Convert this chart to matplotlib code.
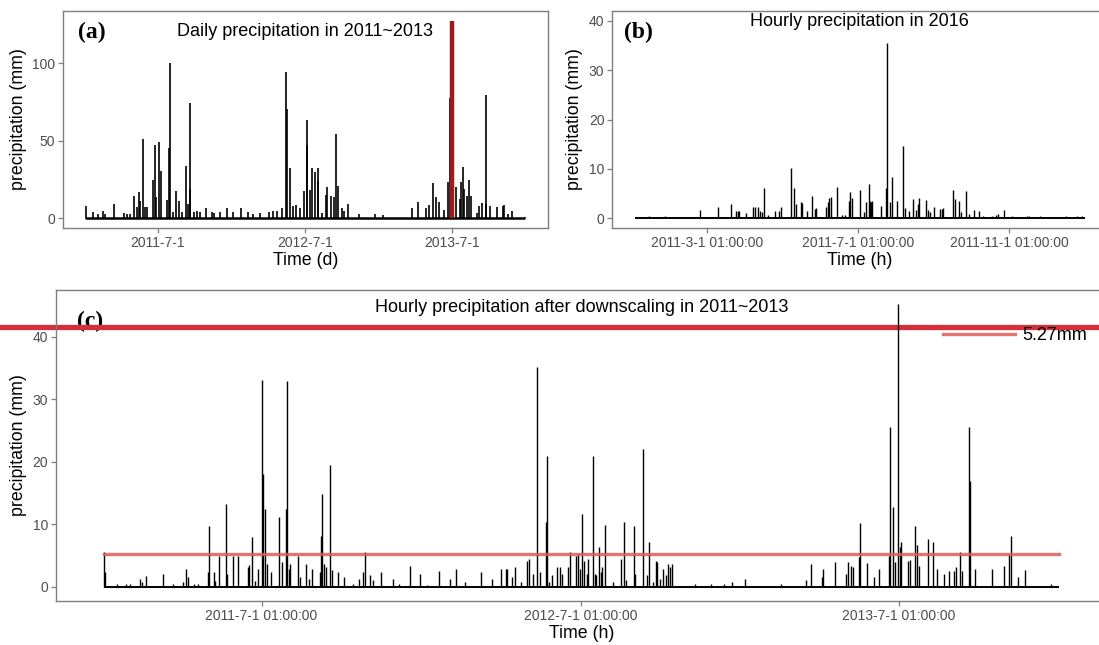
import numpy as np
import pandas as pd
import matplotlib
matplotlib.use('Agg')
import matplotlib.pyplot as plt
from matplotlib.lines import Line2D

plt.rcParams['font.family'] = ['Liberation Sans', 'DejaVu Sans']

# (a) daily precipitation, day index counted from a_start
a_start, a_end = '2011-01-01', '2013-12-31'
a_day = [2, 19, 32, 44, 50, 71, 96, 104, 112, 123,
         129, 134, 137, 143, 150, 155, 169, 173, 177, 184,
         188, 203, 210, 212, 220, 226, 234, 242, 251, 256,
         261, 262, 270, 278, 286, 301, 315, 321, 336, 352,
         367, 388, 406, 417, 435, 458, 468, 477, 489, 500,
         502, 510, 516, 524, 535, 545, 552, 553, 560, 564,
         571, 578, 580, 588, 598, 602, 612, 619, 623, 629,
         638, 645, 655, 681, 721, 740, 814, 829, 847, 856,
         864, 873, 881, 892, 903, 907, 912, 922, 931, 935,
         939, 942, 949, 955, 960, 974, 980, 986, 997, 998,
         1007, 1025, 1038, 1042, 1052, 1062, 1094]
a_mm = [7.7, 3.8, 2.4, 4.5, 2.8, 9.2, 3.4, 2.8, 2.8, 14.3,
        7.1, 16.7, 11.3, 50.9, 7.1, 7.1, 24.6, 47.4, 13.5, 49.1,
        30.6, 12.0, 45.1, 100.5, 3.8, 17.3, 10.9, 3.8, 33.8, 9.2,
        18.8, 74.4, 3.8, 4.9, 3.8, 6.4, 3.8, 3.2, 3.8, 6.4,
        3.8, 6.6, 3.8, 2.8, 3.2, 3.8, 4.3, 4.5, 6.4, 94.2,
        70.5, 32.3, 8.1, 8.8, 6.4, 17.3, 63.7, 47.6, 18.2, 32.3,
        30.1, 32.3, 24.1, 3.2, 15.2, 20.3, 14.5, 13.9, 54.7, 20.5,
        6.4, 4.5, 9.2, 2.4, 2.4, 2.1, 6.4, 10.7, 6.4, 8.5,
        22.4, 13.9, 10.7, 5.3, 23.1, 77.6, 27.4, 20.3, 12.4, 23.1,
        33.3, 18.8, 14.5, 24.8, 14.5, 3.2, 8.1, 9.8, 9.2, 79.7,
        7.7, 7.5, 7.7, 8.5, 2.8, 4.9, 0.6]
a_mark_date = '2013-07-01'
a_mark_mm = 127.5
a_ticks = ['2011-07-01', '2012-07-01', '2013-07-01']
a_ticklabels = ['2011-7-1', '2012-7-1', '2013-7-1']

# (b) hourly precipitation, one year
b_start, b_end = '2011-01-01', '2011-12-31 23:00'
b_day = [12, 21, 25, 53, 68, 78, 82, 84, 85, 90,
         96, 98, 100, 102, 103, 105, 108, 114, 117, 119,
         127, 129, 131, 135, 136, 140, 144, 146, 147, 155,
         157, 158, 159, 164, 168, 171, 174, 175, 176, 183,
         186, 188, 190, 191, 192, 193, 200, 204, 205, 207,
         209, 213, 218, 219, 223, 226, 228, 230, 231, 236,
         238, 240, 243, 248, 249, 250, 258, 260, 263, 265,
         269, 271, 275, 279, 283, 290, 293, 295, 300, 306,
         313, 318, 320, 329, 350, 359, 363]
b_mm = [0.5, 0.3, 0.5, 1.7, 2.3, 2.9, 1.5, 1.5, 1.5, 1.0,
        2.2, 2.2, 2.3, 1.5, 1.3, 6.1, 0.7, 1.5, 1.4, 2.2,
        10.1, 6.2, 2.9, 3.2, 3.1, 1.5, 4.4, 1.9, 2.1, 2.2,
        3.2, 4.1, 4.2, 6.4, 0.7, 0.7, 3.4, 5.4, 4.0, 5.7,
        1.2, 3.2, 6.9, 3.5, 3.2, 3.4, 2.5, 6.1, 35.5, 3.2,
        8.4, 3.5, 14.7, 2.0, 1.5, 3.9, 1.7, 2.9, 4.1, 3.7,
        1.7, 1.2, 2.3, 1.9, 1.9, 2.0, 5.7, 3.9, 3.5, 1.3,
        5.6, 0.9, 1.7, 1.5, 0.5, 0.5, 0.7, 0.9, 1.7, 0.5,
        0.3, 0.4, 0.4, 0.5, 0.4, 0.4, 0.4]
b_ticks = ['2011-03-01 01:00', '2011-07-01 01:00', '2011-11-01 01:00']
b_ticklabels = ['2011-3-1 01:00:00', '2011-7-1 01:00:00', '2011-11-1 01:00:00']

# (c) hourly precipitation after downscaling
c_start, c_end = '2011-01-01', '2013-12-31 23:00'
c_day = [0, 1, 15, 26, 30, 41, 44, 49, 68, 79,
         91, 94, 97, 104, 108, 120, 121, 126, 128, 132,
         140, 141, 148, 154, 165, 167, 170, 173, 177, 182,
         183, 185, 187, 192, 201, 204, 209, 210, 212, 214,
         223, 225, 232, 235, 239, 248, 249, 250, 253, 255,
         259, 262, 269, 276, 286, 293, 297, 300, 305, 309,
         318, 332, 339, 351, 363, 371, 385, 397, 404, 414,
         433, 445, 456, 461, 463, 468, 472, 479, 486, 488,
         492, 497, 500, 507, 508, 511, 514, 520, 523, 526,
         532, 535, 542, 544, 546, 549, 551, 554, 556, 561,
         563, 565, 568, 570, 572, 575, 584, 593, 597, 599,
         608, 609, 619, 623, 625, 630, 633, 635, 638, 641,
         645, 647, 649, 652, 678, 696, 712, 721, 735, 748,
         777, 806, 811, 824, 825, 839, 851, 854, 857, 859,
         866, 867, 875, 884, 889, 901, 902, 905, 908, 911,
         913, 915, 923, 925, 930, 933, 935, 945, 951, 956,
         964, 970, 975, 977, 982, 985, 993, 994, 999, 1019,
         1033, 1038, 1041, 1049, 1057, 1086]
c_mm = [5.6, 2.3, 0.5, 0.5, 0.5, 1.3, 0.8, 1.75, 2.1, 0.4,
        0.8, 2.8, 1.5, 0.5, 0.5, 2.3, 9.7, 2.3, 1.0, 5.0,
        13.3, 2.1, 5.0, 5.0, 3.2, 3.5, 7.9, 1.0, 2.8, 33.1,
        18.0, 12.5, 3.7, 2.3, 11.1, 3.9, 12.5, 32.9, 2.9, 3.7,
        4.9, 1.6, 3.7, 1.2, 2.9, 2.3, 8.2, 14.8, 3.7, 3.2,
        19.5, 2.7, 2.4, 1.6, 0.5, 1.3, 2.3, 5.6, 1.9, 1.1,
        2.3, 1.3, 0.5, 3.3, 2.1, 0.3, 2.5, 1.3, 2.8, 0.8,
        2.3, 1.2, 2.9, 2.9, 2.9, 1.5, 3.2, 0.8, 4.2, 4.5,
        2.1, 35.2, 2.3, 10.4, 20.9, 0.8, 1.9, 3.2, 3.2, 2.1,
        3.2, 5.6, 5.0, 5.3, 2.9, 11.7, 4.2, 2.1, 4.5, 20.9,
        2.1, 1.9, 6.4, 2.4, 3.2, 9.9, 0.8, 4.5, 10.3, 1.1,
        9.7, 2.1, 22.0, 1.9, 7.1, 0.8, 4.1, 4.0, 1.3, 2.9,
        1.9, 3.7, 3.2, 3.7, 0.5, 0.4, 0.4, 0.8, 1.3, 0.2,
        0.4, 1.1, 3.7, 1.5, 2.9, 4.0, 2.0, 4.0, 3.3, 3.1,
        4.7, 10.2, 3.8, 1.5, 2.9, 4.9, 25.5, 12.7, 3.9, 45.2,
        6.3, 7.2, 4.1, 4.3, 9.7, 6.7, 3.3, 7.7, 7.2, 2.9,
        2.0, 2.5, 2.5, 3.1, 5.5, 2.5, 25.5, 17.0, 2.9, 2.9,
        3.4, 5.3, 8.1, 1.5, 2.7, 0.5]
c_thresh = 5.27
c_ticks = ['2011-07-01 01:00', '2012-07-01 01:00', '2013-07-01 01:00']
c_ticklabels = ['2011-7-1 01:00:00', '2012-7-1 01:00:00', '2013-7-1 01:00:00']

GREY = '#4d4d4d'


def to_dates(start, days):
    return (pd.Timestamp(start) + pd.to_timedelta(np.asarray(days, dtype=float), unit='D')).to_numpy()


def spikes(ax, start, end, days, mm, lw=1.0, base_lw=1.3):
    t0, t1 = pd.Timestamp(start), pd.Timestamp(end)
    ax.plot([t0, t1], [0, 0], color='black', lw=base_lw, zorder=3, solid_capstyle='butt')
    ax.vlines(to_dates(start, days), 0, mm, color='black', lw=lw, zorder=3)
    pad = (t1 - t0) * 0.05
    ax.set_xlim(t0 - pad, t1 + pad)


def style(ax, ticks, labels, xlabel):
    ax.set_xticks([pd.Timestamp(t) for t in ticks])
    ax.set_xticklabels(labels)
    for s in ax.spines.values():
        s.set_color('#7f7f7f')
        s.set_linewidth(1.0)
    ax.tick_params(colors='#7f7f7f', labelcolor=GREY, labelsize=10, length=3.5, width=0.9, pad=2)
    ax.set_xlabel(xlabel, fontsize=12.8, labelpad=2)
    ax.set_ylabel('precipitation (mm)', fontsize=12.8, labelpad=4)


fig = plt.figure(figsize=(10.99, 6.45), dpi=100)

# (a)
ax_a = fig.add_axes([0.0573, 0.6465, 0.4409, 0.3364])
spikes(ax_a, a_start, a_end, a_day, a_mm, lw=1.2, base_lw=1.8)
ax_a.vlines(pd.Timestamp(a_mark_date), 0, a_mark_mm, color='#a11a1a', lw=3.2, zorder=4)
top = max(max(a_mm), a_mark_mm)
ax_a.set_ylim(-0.05 * top, 1.05 * top)
ax_a.set_yticks([0, 50, 100])
style(ax_a, a_ticks, a_ticklabels, 'Time (d)')
ax_a.text(0.5, 0.905, 'Daily precipitation in 2011~2013', transform=ax_a.transAxes,
          ha='center', va='center', fontsize=13)
ax_a.text(0.03, 0.90, '(a)', transform=ax_a.transAxes, ha='left', va='center',
          fontsize=17, fontweight='bold', family='Liberation Serif')

# (b)
ax_b = fig.add_axes([0.5569, 0.6465, 0.4504, 0.3364])
spikes(ax_b, b_start, b_end, b_day, b_mm, lw=1.0, base_lw=1.4)
ax_b.set_ylim(-2, 42)
ax_b.set_yticks([0, 10, 20, 30, 40])
style(ax_b, b_ticks, b_ticklabels, 'Time (h)')
ax_b.text(0.5, 0.952, 'Hourly precipitation in 2016', transform=ax_b.transAxes,
          ha='center', va='center', fontsize=13)
ax_b.text(0.025, 0.90, '(b)', transform=ax_b.transAxes, ha='left', va='center',
          fontsize=17, fontweight='bold', family='Liberation Serif')

# (c)
ax_c = fig.add_axes([0.05096, 0.0682, 0.9563, 0.4822])
spikes(ax_c, c_start, c_end, c_day, c_mm, lw=1.0, base_lw=1.4)
ax_c.plot([pd.Timestamp(c_start), pd.Timestamp(c_end)], [c_thresh, c_thresh],
          color='#e05a5a', lw=2.4, alpha=0.85, zorder=5, label='%.2fmm' % c_thresh)
top = max(c_mm)
ax_c.set_ylim(-0.05 * top, 1.05 * top)
ax_c.set_yticks([0, 10, 20, 30, 40])
style(ax_c, c_ticks, c_ticklabels, 'Time (h)')
ax_c.text(0.5, 0.945, 'Hourly precipitation after downscaling in 2011~2013',
          transform=ax_c.transAxes, ha='center', va='center', fontsize=13)
ax_c.text(0.02, 0.90, '(c)', transform=ax_c.transAxes, ha='left', va='center',
          fontsize=17, fontweight='bold', family='Liberation Serif', zorder=1)
ax_c.legend(loc='upper right', bbox_to_anchor=(1087 / 1099, 1 - 327 / 645),
            bbox_transform=fig.transFigure, frameon=False, fontsize=13,
            handlelength=4.0, handletextpad=0.4, borderpad=0, borderaxespad=0)

# red line across the whole figure
ax_c.add_line(Line2D([0, 1], [1 - 327 / 645] * 2, transform=fig.transFigure,
                     color='#d32f3a', lw=3.8, clip_on=False, zorder=2))

fig.savefig('out.png', dpi=100)
